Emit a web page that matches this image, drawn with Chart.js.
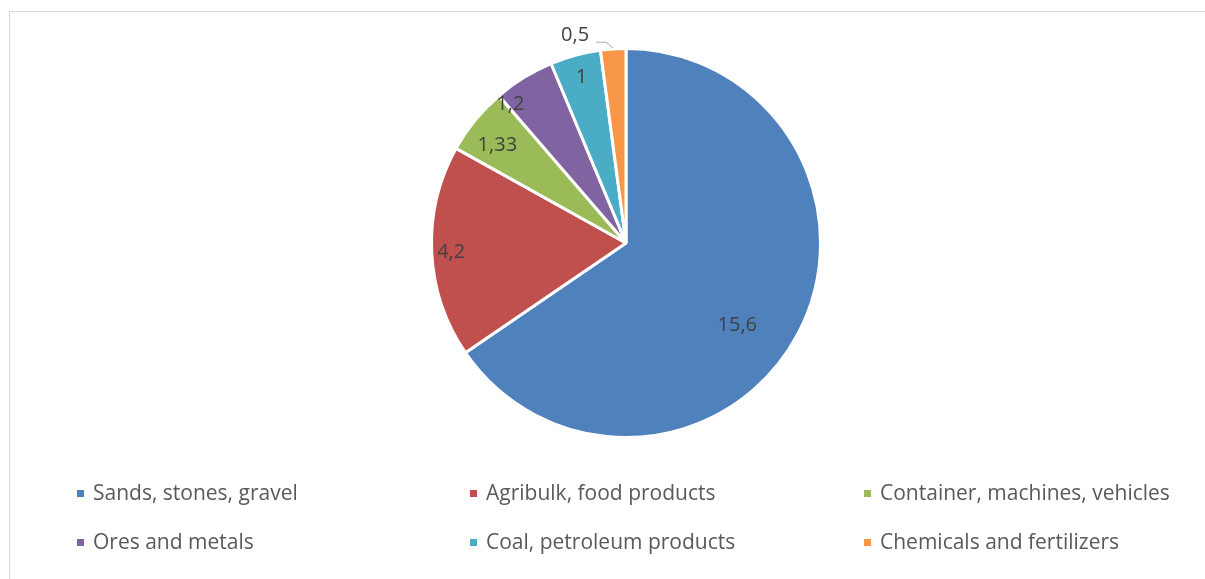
<!DOCTYPE html>
<html>
<head>
<meta charset="utf-8">
<script src="https://cdn.jsdelivr.net/npm/chart.js@4/dist/chart.umd.min.js"></script>
<style>
  html, body { margin: 0; padding: 0; background: #fff; }
  #wrap { position: relative; width: 1205px; height: 579px; overflow: hidden; }
  #frame { position: absolute; left: 9px; top: 11px; width: 1300px; height: 700px;
           border-left: 1px solid #d9d9d9; border-top: 1px solid #d9d9d9; }
  #pie { position: absolute; left: 0; top: 0; }
  .legend-item { position: absolute; font-family: "Open Sans", Lato, sans-serif; font-size: 21px;
                 color: #595959; white-space: nowrap; line-height: 28px; }
  .legend-item span.box { display: inline-block; width: 7px; height: 7px; margin-right: 9px;
                          vertical-align: middle; position: relative; top: -1px; }
</style>
</head>
<body>
<div id="wrap">
  <div id="frame"></div>
  <canvas id="pie" width="1205" height="579"></canvas>
  <div id="legend"></div>
</div>
<script>
const categories = ['Sands, stones, gravel', 'Agribulk, food products', 'Container, machines, vehicles',
                    'Ores and metals', 'Coal, petroleum products', 'Chemicals and fertilizers'];
const values = [15.6, 4.2, 1.33, 1.2, 1, 0.5];
const valueLabels = ['15,6', '4,2', '1,33', '1,2', '1', '0,5'];
const colors = ['#4f81bd', '#c0504d', '#9bbb59', '#8064a2', '#4bacc6', '#f79646'];

// label placement: [angle shift in degrees, fraction of radius]
const labelPlace = [[8.5, 0.71], [-0.4, 0.90], [-2, 0.83], [-8, 0.93], [0, 0.88], [-10, 1.10]];

const pieLabels = {
  id: 'pieLabels',
  afterDatasetsDraw(chart) {
    const ctx = chart.ctx;
    const arcs = chart.getDatasetMeta(0).data;
    ctx.save();
    ctx.font = '20px "Open Sans", Lato, sans-serif';
    ctx.fillStyle = '#404040';
    ctx.textAlign = 'center';
    ctx.textBaseline = 'middle';
    arcs.forEach((arc, i) => {
      const mid = (arc.startAngle + arc.endAngle) / 2 + labelPlace[i][0] * Math.PI / 180;
      const r = arc.outerRadius * labelPlace[i][1];
      const x = arc.x + Math.cos(mid) * r;
      const y = arc.y + Math.sin(mid) * r;
      ctx.fillText(valueLabels[i], x, y);
      if (i === 5) {
        // leader line to the small slice
        const m = (arc.startAngle + arc.endAngle) / 2;
        const ex = arc.x + Math.cos(m) * (arc.outerRadius + 1);
        const ey = arc.y + Math.sin(m) * (arc.outerRadius + 1);
        ctx.strokeStyle = '#a6a6a6';
        ctx.lineWidth = 1;
        ctx.beginPath();
        ctx.moveTo(x + 21, y + 7);
        ctx.lineTo(x + 31, y + 7);
        ctx.lineTo(ex, ey);
        ctx.stroke();
      }
    });
    ctx.restore();
  }
};

new Chart(document.getElementById('pie'), {
  type: 'pie',
  data: {
    labels: categories,
    datasets: [{
      data: values,
      backgroundColor: colors,
      borderColor: '#ffffff',
      borderWidth: 3
    }]
  },
  options: {
    responsive: false,
    animation: false,
    layout: { padding: { left: 430, right: 383, top: 47, bottom: 140 } },
    plugins: {
      legend: { display: false },
      tooltip: { enabled: false }
    }
  },
  plugins: [pieLabels]
});

// legend, 3 columns x 2 rows
const legend = document.getElementById('legend');
const colX = [77, 470, 864];
const rowY = [478, 527];
categories.forEach((name, i) => {
  const div = document.createElement('div');
  div.className = 'legend-item';
  div.style.left = colX[i % 3] + 'px';
  div.style.top = rowY[Math.floor(i / 3)] + 'px';
  div.innerHTML = `<span class="box" style="background:${colors[i]}"></span>${name}`;
  legend.appendChild(div);
});
</script>
</body>
</html>
